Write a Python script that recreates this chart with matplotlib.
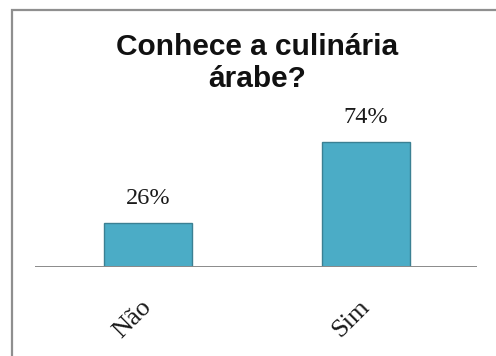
import matplotlib
matplotlib.use("Agg")
import matplotlib.pyplot as plt
from matplotlib.patches import Rectangle
from matplotlib.transforms import ScaledTranslation

categories = ["Não", "Sim"]
values = [26, 74]
value_labels = ["26%", "74%"]
title = "Conhece a culinária\nárabe?"

W, H, DPI = 496, 356, 100
fig = plt.figure(figsize=(W / DPI, H / DPI), dpi=DPI)
fig.patch.set_facecolor("white")

def fx(px):
    return px / W

def fy(py):
    return 1 - py / H

# chart frame, running off the right and bottom edges
fig.patches.append(Rectangle((fx(12), fy(400)), fx(540), (400 - 9.5) / H,
                             transform=fig.transFigure, fill=False,
                             edgecolor="#8f8f8f", linewidth=1.6))

# plot area
base_px, top_px = 266.7, 131.5
ax = fig.add_axes([fx(35), fy(base_px), fx(442), (base_px - top_px) / H])
ax.set_xlim(-0.52, 1.51)
ax.set_ylim(0, 80)
ax.axis("off")
ax.axhline(0, color="#8a8a8a", linewidth=1.4, zorder=3)

x = list(range(len(categories)))
ax.bar(x, values, width=0.404, color="#4bacc6", edgecolor="#3b8093",
       linewidth=1.0, zorder=2)

serif = ["Liberation Serif", "DejaVu Serif"]
for xi, v, lab in zip(x, values, value_labels):
    ax.annotate(lab, (xi, v), xytext=(0, 13.5), textcoords="offset points",
                ha="center", va="baseline", fontsize=17.5, family=serif,
                color="#1a1a1a")

for xi, cat in zip(x, categories):
    off = ScaledTranslation(0 / DPI, -37 / DPI, fig.dpi_scale_trans)
    ax.text(xi, 0, cat, transform=ax.transData + off, rotation=45,
            rotation_mode="anchor", ha="right", va="center", fontsize=19,
            family=serif, color="#1a1a1a")

fig.text(fx(257), fy(33), title, ha="center", va="top", fontsize=21.5,
         fontweight="bold", family=["Liberation Sans", "DejaVu Sans"],
         linespacing=1.19, color="#111111")

fig.savefig("out.png", dpi=DPI)
